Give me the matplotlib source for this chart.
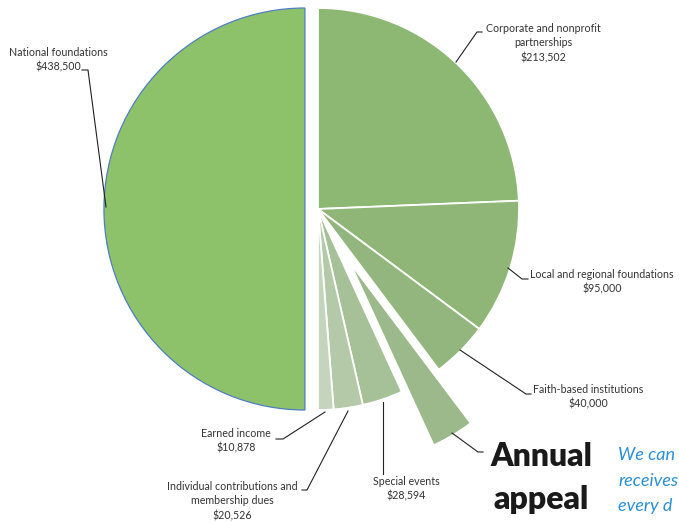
import numpy as np
import matplotlib.pyplot as plt

# revenue sources (clockwise from 12 o'clock)
sources = ['Corporate and nonprofit\npartnerships', 'Local and regional foundations',
           'Faith-based institutions', 'Annual appeal', 'Special events',
           'Individual contributions and\nmembership dues', 'Earned income',
           'National foundations']
amounts = [213502, 95000, 40000, 30000, 28594, 20526, 10878, 438500]
colors = ['#8db873', '#8fb676', '#93b67e', '#9bb98a', '#a6c197', '#b3c9a7',
          '#c5d4bd', '#8dc26b']
explode = [0, 0, 0, 0.31, 0, 0, 0, 0.065]

W, H = 679, 523
R = 201
def Y(p):
    return H - p

fig = plt.figure(figsize=(W / 100, H / 100), dpi=100)
ax = fig.add_axes([0, 0, 1, 1])

# pie's explode is in data units, so scale by the radius
wedges, _ = ax.pie(amounts, colors=colors, explode=[e * R for e in explode],
                   startangle=90, counterclock=False, center=(318, Y(209)),
                   radius=R, wedgeprops=dict(edgecolor='white', linewidth=1.3))
wedges[-1].set_edgecolor('#4f7fc0')
wedges[-1].set_linewidth(0.9)

ax.set_xlim(0, W)
ax.set_ylim(0, H)
ax.set_aspect('equal')
ax.axis('off')

txt = dict(fontsize=7.7, color='#333333', family='Lato', ha='center',
           va='center', linespacing=1.4)

def money(v):
    return '${:,}'.format(v)

# label text positions (pixels) and leader lines
labels = {
    0: ((543, 43), [(482, 32), (477, 32), (456, 62)]),
    1: ((602, 282), [(528, 279), (522, 279), (508, 268)]),
    2: ((588, 397), [(531, 394), (526, 394), (460, 350)]),
    4: ((406, 489), [(383, 402), (383, 474)]),
    5: ((232, 501), [(302, 490), (307, 490), (348, 411)]),
    6: ((236, 441), [(276, 439), (283, 439), (325, 412)]),
    7: ((58, 60), [(82, 70), (88, 70), (106, 207)]),
}
for i, (pos, line) in labels.items():
    ax.text(pos[0], Y(pos[1]), sources[i] + '\n' + money(amounts[i]), **txt)
    xs, ys = zip(*line)
    ax.plot(xs, [Y(v) for v in ys], color='#222222', lw=0.8)

# annual appeal callout
ax.plot([452, 478, 483], [Y(433), Y(452), Y(452)], color='#222222', lw=0.8)
for s, yy in zip(['Annual', 'appeal'], [456, 499]):
    ax.text(541, Y(yy), s, fontsize=23, fontweight='heavy', family='Lato',
            color='#1a1a1a', ha='center', va='center')
for s, yy in zip(['We can', 'receives', 'every d'], [455, 481, 506]):
    ax.text(618, Y(yy), s, fontsize=13, style='italic', family='Lato',
            color='#2a8fd4', ha='left', va='center')

fig.savefig('out.png', dpi=100)
